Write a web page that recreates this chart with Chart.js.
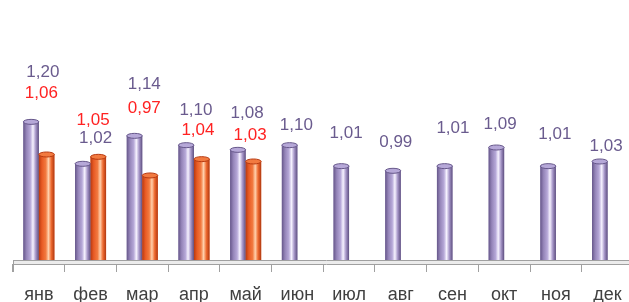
<!DOCTYPE html>
<html>
<head>
<meta charset="utf-8">
<script src="https://cdn.jsdelivr.net/npm/chart.js@4/dist/chart.umd.min.js"></script>
<style>
  html, body { margin: 0; padding: 0; background: #fff; overflow: hidden; width: 629px; height: 302px; }
  #wrap { width: 640px; height: 302px; }
</style>
</head>
<body>
<div id="wrap"><canvas id="c"></canvas></div>
<script>
// categories and values
const months = ['янв', 'фев', 'мар', 'апр', 'май', 'июн', 'июл', 'авг', 'сен', 'окт', 'ноя', 'дек'];
const series2 = [1.20, 1.02, 1.14, 1.10, 1.08, 1.10, 1.01, 0.99, 1.01, 1.09, 1.01, 1.03];
const series1 = [1.06, 1.05, 0.97, 1.04, 1.03, null, null, null, null, null, null, null];

// label nudges (px), the original labels were dragged by hand
const liftPurple = [50, 25, 52, 35, 37, 20, 33, 28, 38, 23.5, 32, 15.5];
const liftRed = [61.5, 37, 67.5, 29, 26.5];
const dxPurple = [4, 5, 2, 2, 1.5, -1, -3, -5, 0.5, -4, -1, -1.5];
const dxRed = [2.5, 2.5, 2, 4, 4.5];

const shades = [
    ['#66578a', '#9484b8', '#b6a8d8', '#f6f2ff', '#a696c8', '#5e4f80'],
    ['#b83a10', '#e85a24', '#f27a40', '#ffd0ac', '#ee6a30', '#b03810']
];

function fmt(v) { return v.toFixed(2).replace('.', ','); }

// cylinder shading drawn over each bar + the 3d floor
const cylinders = {
    id: 'cylinders',
    afterDatasetsDraw: function(chart) {
        var ctx = chart.ctx;
        var a = chart.chartArea;
        chart.data.datasets.forEach(function(ds, di) {
            var meta = chart.getDatasetMeta(di);
            var s = shades[di];
            meta.data.forEach(function(el, i) {
                if (ds.data[i] === null) return;
                var w = el.width, x0 = el.x - w / 2, top = el.y;
                var base = Math.min(el.base, a.bottom - 3);
                var g = ctx.createLinearGradient(x0, 0, x0 + w, 0);
                g.addColorStop(0, s[0]);
                g.addColorStop(0.2, s[1]);
                g.addColorStop(0.45, s[2]);
                g.addColorStop(0.62, s[3]);
                g.addColorStop(0.8, s[4]);
                g.addColorStop(1, s[5]);
                ctx.save();
                ctx.fillStyle = g;
                ctx.fillRect(x0, top, w, base - top);
                // top cap
                ctx.beginPath();
                ctx.ellipse(el.x, top, w / 2, 2.5, 0, 0, Math.PI * 2);
                ctx.fillStyle = s[2];
                ctx.fill();
                ctx.strokeStyle = s[0];
                ctx.lineWidth = 1;
                ctx.stroke();
                ctx.restore();
            });
        });

        // floor
        ctx.save();
        ctx.fillStyle = '#ececec';
        ctx.fillRect(a.left, a.bottom - 3, chart.width - a.left, 3);
        ctx.strokeStyle = '#a0a0a0';
        ctx.lineWidth = 1;
        ctx.beginPath();
        ctx.moveTo(a.left, a.bottom - 3.5); ctx.lineTo(chart.width, a.bottom - 3.5);
        ctx.moveTo(a.left, a.bottom + 0.5); ctx.lineTo(chart.width, a.bottom + 0.5);
        ctx.moveTo(a.left + 0.5, a.bottom - 3.5); ctx.lineTo(a.left + 0.5, a.bottom + 8);
        ctx.stroke();
        ctx.restore();
    }
};

const valueLabels = {
    id: 'valueLabels',
    afterDraw: function(chart) {
        var ctx = chart.ctx;
        var x = chart.scales.x;
        var y = chart.scales.y;
        ctx.save();
        ctx.font = '17px "Liberation Sans", Arial, sans-serif';
        ctx.textAlign = 'center';
        ctx.textBaseline = 'middle';
        for (var i = 0; i < months.length; i++) {
            var cx = x.getPixelForValue(i);
            ctx.fillStyle = '#6a5b8e';
            ctx.fillText(fmt(series2[i]), cx + dxPurple[i], y.getPixelForValue(series2[i]) - liftPurple[i]);
            if (series1[i] !== null) {
                ctx.fillStyle = '#ff2222';
                ctx.fillText(fmt(series1[i]), cx + dxRed[i], y.getPixelForValue(series1[i]) - liftRed[i]);
            }
        }
        ctx.restore();
    }
};

new Chart(document.getElementById('c'), {
    type: 'bar',
    data: {
        labels: months,
        datasets: [
            { label: '2', data: series2, backgroundColor: '#9484b8', borderWidth: 0 },
            { label: '1', data: series1, backgroundColor: '#e85a24', borderWidth: 0 }
        ]
    },
    options: {
        responsive: true,
        maintainAspectRatio: false,
        animation: false,
        events: [],
        categoryPercentage: 0.6,
        barPercentage: 1,
        layout: { padding: { left: 13, right: 6.6, top: 31, bottom: 0 } },
        plugins: { legend: { display: false }, tooltip: { enabled: false }, title: { display: false } },
        scales: {
            x: {
                border: { display: false },
                grid: { offset: true, drawOnChartArea: false, tickLength: 8, color: '#a0a0a0' },
                ticks: { color: '#404040', padding: 12, font: { family: '"Liberation Sans", Arial, sans-serif', size: 18 } },
                afterFit: function(scale) { scale.height = 38; }
            },
            y: {
                display: false,
                min: 0.59,
                max: 1.59
            }
        }
    },
    plugins: [cylinders, valueLabels]
});
</script>
</body>
</html>
